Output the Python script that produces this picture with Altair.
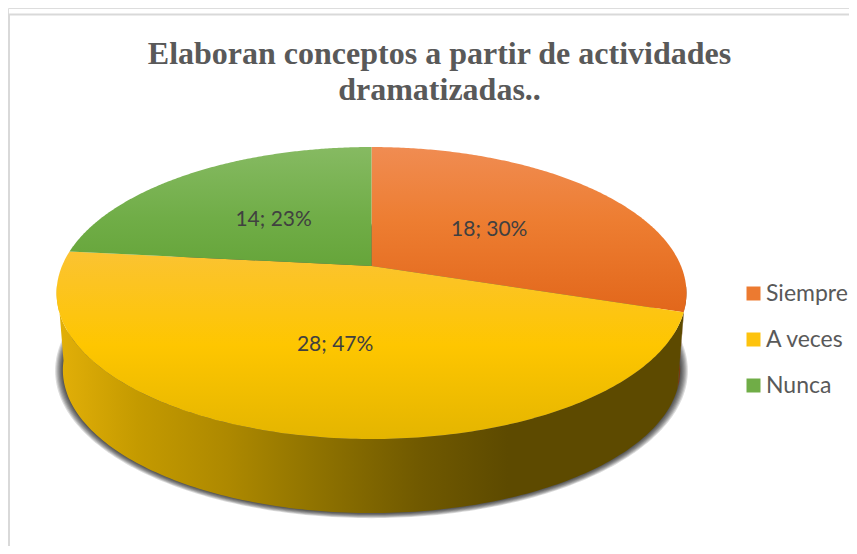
import numpy as np
import pandas as pd
import altair as alt

title_lines = ["Elaboran conceptos a partir de actividades", "dramatizadas.."]
categories = ["Siempre", "A veces", "Nunca"]
values = [18, 28, 14]
top_colors = [
    [("#F08C52", 0), ("#ED7D31", 0.45), ("#E2671B", 1)],
    [("#FBC332", 0), ("#FEC600", 0.5), ("#E4B500", 1)],
    [("#86BA62", 0), ("#70AD47", 0.6), ("#66A53A", 1)],
]
legend_colors = ["#EC7A30", "#FDC30E", "#70AD47"]
wall_stops = [("#E3B008", 0), ("#C49A00", 0.13), ("#AE8900", 0.27), ("#927500", 0.4),
              ("#705900", 0.58), ("#5D4A00", 0.72), ("#5D4A00", 1)]

# view geometry of the tilted disc (page pixels)
CX, CY, A, B, E = 371.5, 266.0, 309.5, 141.0, 0.185
DEPTH, LOWER = 77.5, 0.98
W, H = 841, 538

total = sum(values)
edges = np.cumsum([0] + values) / total * 360.0


def proj(theta, r=1.0, scale=1.0, dy=0.0, grow_x=0.0, grow_y=0.0):
    t = np.radians(theta)
    u, v = r * np.sin(t), r * np.cos(t)
    d = 1 + E * v
    return (CX + scale * A * u / d * (1 + grow_x), CY + dy - scale * B * v / d * (1 + grow_y))


def gradient(stops, horizontal=False):
    return alt.LinearGradient(
        gradient="linear",
        x1=0, y1=0, x2=1 if horizontal else 0, y2=0 if horizontal else 1,
        stops=[alt.GradientStop(color=c, offset=o) for c, o in stops],
    )


X = alt.X("x:Q", scale=alt.Scale(domain=[8, 8 + W], nice=False, zero=False), axis=None)
Y = alt.Y("y:Q", scale=alt.Scale(domain=[8 + H, 8], nice=False, zero=False), axis=None)


def poly(xs, ys, **mark):
    df = pd.DataFrame({"x": xs, "y": ys, "i": np.arange(len(xs))})
    return alt.Chart(df).mark_line(strokeWidth=0, interpolate="linear", clip=False, **mark).encode(
        x=X, y=Y, order=alt.Order("i:Q"))


layers = []

# shadow
th = np.linspace(0, 360, 361)
for g in np.linspace(1.0, 0.1, 7):
    sx, sy = proj(th, scale=LOWER, dy=DEPTH, grow_x=g * 0.025, grow_y=g * 0.03)
    layers.append(poly(sx, sy, fill="#000000", fillOpacity=0.14))

# sliver of the first slice's wall on the right edge
tb = np.linspace(98.0, edges[1], 20)
x1, y1 = proj(tb)
x2, y2 = proj(tb[::-1], scale=LOWER, dy=DEPTH)
layers.append(poly(np.r_[x1, x2], np.r_[y1, y2], fill="#7A3A10"))

# side wall: front part of the disc
w0, w1 = edges[1], 263.0
ta = np.linspace(w0, w1, 160)
x1, y1 = proj(ta)
x2, y2 = proj(ta[::-1], scale=LOWER, dy=DEPTH)
layers.append(poly(np.r_[x1, x2], np.r_[y1, y2], fill=gradient(wall_stops, True)))

# top faces
for i in range(3):
    t = np.linspace(edges[i], edges[i + 1], 200)
    xa, ya = proj(t)
    layers.append(poly(np.r_[CX, xa], np.r_[CY, ya], fill=gradient(top_colors[i])))

# data labels
mid = (edges[:-1] + edges[1:]) / 2
lx, ly = proj(mid, r=0.5)
labels = pd.DataFrame({
    "x": lx, "y": ly,
    "t": [f"{v}; {round(100 * v / total)}%" for v in values],
})
layers.append(alt.Chart(labels).mark_text(font="Lato", fontSize=21, color="#404040", dy=3, dx=-1).encode(
    x=X, y=Y, text="t:N"))

# frame lines
frame_top = pd.DataFrame({"x": [8], "x2": [8 + W], "y": [14.5]})
layers.append(alt.Chart(frame_top).mark_rule(color="#D9D9D9", strokeWidth=2).encode(
    x=X, x2="x2:Q", y=Y))
frame_left = pd.DataFrame({"x": [9], "y": [14], "y2": [8 + H]})
layers.append(alt.Chart(frame_left).mark_rule(color="#D9D9D9", strokeWidth=2).encode(
    x=X, y=Y, y2="y2:Q"))

# carrier of the legend, hidden under the disc
leg = pd.DataFrame({"x": [CX] * 3, "y": [CY + 60] * 3, "c": categories})
legend_layer = alt.Chart(leg).mark_point(filled=True, shape="square", size=1).encode(
    x=X, y=Y,
    color=alt.Color("c:N", sort=categories,
                    scale=alt.Scale(domain=categories, range=legend_colors),
                    legend=alt.Legend(title=None, orient="none", legendX=734, legendY=274,
                                      symbolType="square", symbolSize=196, symbolOpacity=1,
                                      symbolStrokeWidth=0,
                                      labelFont="Lato", labelFontSize=23, labelColor="#595959",
                                      rowPadding=22, labelOffset=1)))

chart = alt.layer(legend_layer, *layers).properties(
    width=W, height=H, padding=0,
    autosize=alt.AutoSizeParams(type="none"),
    title=alt.TitleParams(text=title_lines, font="Liberation Serif", fontSize=32, fontWeight="bold",
                          color="#595959", anchor="middle", dx=11, dy=63 + 36, lineHeight=36,
                          baseline="top", offset=0),
).configure_view(stroke="transparent", strokeWidth=0).configure(background="white")

chart.save("out.html", embed_options={"renderer": "svg", "actions": False})
